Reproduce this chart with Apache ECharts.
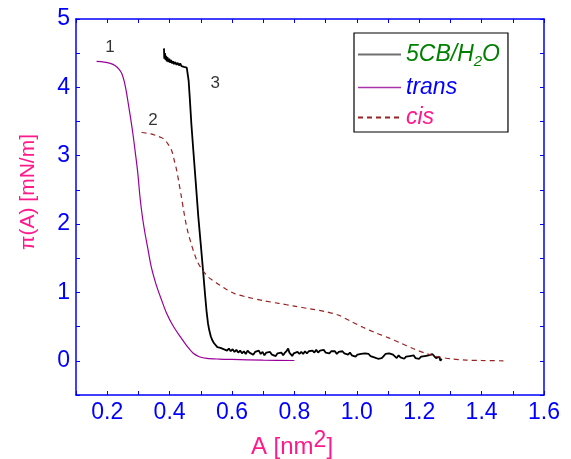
<!DOCTYPE html>
<html><head><meta charset="utf-8">
<script src="https://cdn.jsdelivr.net/npm/echarts@6/dist/echarts.min.js"></script>
<style>html,body{margin:0;padding:0;background:#fff}#c{width:571px;height:459px}</style>
</head><body><div id="c"></div>
<script>
var seriesNames = ['5CB/H2O', 'trans', 'cis'];
var xTickLabels = ['0.2','0.4','0.6','0.8','1.0','1.2','1.4','1.6'];
var yTickLabels = ['0','1','2','3','4','5'];
var annLabels = ['1','2','3'];
var annPos = [[0.209,4.58],[0.347,3.52],[0.546,4.06]];

var trans = [[0.166,4.38],[0.19,4.37],[0.21,4.35],[0.225,4.32],[0.237,4.27],[0.247,4.2],[0.255,4.08],[0.262,3.92],[0.268,3.75],[0.275,3.55],[0.283,3.3],[0.29,3.05],[0.298,2.75],[0.305,2.4],[0.313,2.1],[0.321,1.87],[0.33,1.65],[0.34,1.4],[0.35,1.22],[0.36,1.07],[0.375,0.88],[0.39,0.7],[0.41,0.52],[0.433,0.36],[0.455,0.22],[0.476,0.11],[0.495,0.06],[0.52,0.035],[0.56,0.025],[0.6,0.02],[0.7,0.01],[0.8,0.005]];

var cis = [[0.31,3.34],[0.34,3.32],[0.36,3.29],[0.38,3.25],[0.395,3.17],[0.407,3.07],[0.415,2.93],[0.423,2.78],[0.43,2.6],[0.437,2.42],[0.445,2.2],[0.452,2.02],[0.46,1.86],[0.47,1.7],[0.48,1.56],[0.49,1.44],[0.505,1.33],[0.525,1.22],[0.55,1.14],[0.58,1.05],[0.61,0.98],[0.65,0.93],[0.7,0.88],[0.75,0.84],[0.8,0.8],[0.85,0.76],[0.9,0.72],[0.94,0.67],[0.98,0.58],[1.02,0.49],[1.06,0.41],[1.1,0.34],[1.14,0.26],[1.18,0.18],[1.22,0.11],[1.26,0.06],[1.3,0.03],[1.35,0.01],[1.4,0.005],[1.47,0]];

var cb = [[0.382,4.57],[0.383,4.42],[0.385,4.50],[0.387,4.40],[0.389,4.46],[0.391,4.38],[0.393,4.44],[0.396,4.37],[0.399,4.42],[0.402,4.36],[0.405,4.40],[0.408,4.35],[0.411,4.38],[0.414,4.34],[0.418,4.37],[0.422,4.33],[0.426,4.36],[0.430,4.32],[0.434,4.35],[0.438,4.31],[0.442,4.33],[0.446,4.30],[0.450,4.32],[0.455,4.29],[0.458,4.28],
[0.461,4.10],[0.465,3.82],[0.470,3.45],[0.476,3.08],[0.484,2.60],[0.492,2.11],[0.500,1.70],[0.508,1.28],[0.514,0.95],[0.519,0.70],[0.523,0.55],[0.527,0.45],[0.532,0.36],[0.537,0.30],[0.542,0.26],
[0.548,0.24],[0.553,0.20],[0.558,0.22],[0.563,0.19],[0.568,0.21],[0.573,0.17],[0.578,0.19],[0.584,0.15],[0.590,0.18],[0.596,0.14],[0.602,0.17],[0.608,0.13],[0.614,0.16],[0.620,0.12],[0.626,0.15],[0.632,0.11],[0.638,0.14],[0.644,0.10],[0.650,0.15],[0.656,0.12],[0.662,0.14],[0.668,0.09],[0.674,0.13],[0.680,0.11],[0.686,0.15],[0.692,0.10],[0.698,0.13],[0.704,0.08],[0.710,0.12],[0.716,0.10],[0.722,0.13],[0.728,0.09],[0.734,0.11],[0.740,0.07],[0.746,0.11],[0.752,0.09],[0.758,0.12],[0.764,0.08],[0.770,0.12],[0.776,0.15],[0.780,0.18],[0.784,0.12],[0.788,0.14],[0.793,0.07],[0.798,0.11],[0.804,0.09],[0.810,0.13],[0.816,0.10],[0.822,0.13],[0.828,0.10],[0.834,0.14],[0.840,0.11],[0.846,0.14],[0.852,0.12],[0.858,0.15],[0.864,0.12],[0.870,0.16],[0.876,0.12],[0.882,0.15],[0.888,0.13],[0.894,0.16],[0.900,0.12],[0.906,0.14],[0.912,0.11],[0.918,0.14],[0.924,0.12],[0.930,0.14],[0.936,0.10],[0.942,0.13],[0.948,0.11],[0.954,0.14],[0.960,0.11],[0.966,0.13],[0.972,0.09],[0.978,0.12],[0.984,0.08],[0.990,0.10],[0.996,0.06],[1.002,0.09],[1.008,0.07],[1.014,0.10],[1.020,0.08],[1.026,0.11],[1.032,0.09],[1.038,0.10],[1.044,0.07],[1.050,0.09],[1.056,0.05],[1.062,0.06],[1.068,0.03],[1.074,0.01],[1.080,0.04],[1.086,0.07],[1.092,0.10],[1.098,0.12],[1.104,0.11],[1.110,0.13],[1.116,0.09],[1.122,0.07],[1.128,0.04],[1.134,0.08],[1.140,0.05],[1.146,0.07],[1.152,0.03],[1.158,0.06],[1.164,0.04],[1.170,0.07],[1.176,0.05],[1.182,0.08],[1.188,0.04],[1.194,0.06],[1.200,0.03],[1.206,0.06],[1.212,0.04],[1.218,0.07],[1.224,0.05],[1.230,0.08],[1.236,0.06],[1.242,0.10],[1.248,0.07],[1.254,0.04],[1.260,0.02],[1.264,0.06],[1.268,0.00],[1.272,0.03]];

var FONT = 'Liberation Sans';
var AXC = '#0000ff';
var NAMEC = '#ff1a8c';

function fmtX(v){
  var s = (Math.round(v*10)/10).toFixed(1);
  return xTickLabels.indexOf(s) >= 0 ? s : '';
}
function fmtY(v){
  var s = String(Math.round(v*10)/10);
  return yTickLabels.indexOf(s) >= 0 ? s : '';
}
var baseX = {type:'value', min:0.1, max:1.6, interval:0.1,
  axisLine:{show:true, onZero:false, lineStyle:{color:AXC, width:1.5}},
  axisTick:{show:true, inside:true, length:4, lineStyle:{color:AXC, width:1}},
  splitLine:{show:false}};
var baseY = {type:'value', min:-0.5, max:5, interval:0.5,
  axisLine:{show:true, onZero:false, lineStyle:{color:AXC, width:1.5}},
  axisTick:{show:true, inside:true, length:4, lineStyle:{color:AXC, width:1}},
  splitLine:{show:false}};

var chart = echarts.init(document.getElementById('c'));
chart.setOption({
  animation:false,
  backgroundColor:'#fff',
  grid:{left:76, top:19, right:27, bottom:64, containLabel:false, outerBoundsMode:'none'},
  xAxis:[
    Object.assign({}, baseX, {position:'bottom',
      name:'A [nm{sup|2}]', nameLocation:'middle', nameGap:33,
      nameTextStyle:{color:NAMEC, fontFamily:FONT, fontSize:24, padding:[0,36,0,0],
        rich:{sup:{color:NAMEC, fontFamily:FONT, fontSize:23, padding:[0,0,14,0]}}},
      axisLabel:{show:true, color:AXC, fontFamily:FONT, fontSize:23, margin:6, formatter:fmtX}}),
    Object.assign({}, baseX, {position:'top', axisLabel:{show:false}})
  ],
  yAxis:[
    Object.assign({}, baseY, {position:'left',
      name:'π(A) [mN/m]', nameLocation:'middle', nameGap:37,
      nameTextStyle:{color:NAMEC, fontFamily:FONT, fontSize:21, padding:[0,0,0,30]},
      axisLabel:{show:true, color:AXC, fontFamily:FONT, fontSize:23, margin:6, formatter:fmtY}}),
    Object.assign({}, baseY, {position:'right', axisLabel:{show:false}})
  ],
  legend:{
    orient:'vertical', left:354, top:33,
    borderColor:'#000', borderWidth:1.2, padding:[10,8,3,3],
    itemWidth:43, itemHeight:10, itemGap:7,
    itemStyle:{opacity:0},
    textStyle:{fontFamily:FONT, fontSize:23, fontStyle:'italic',
      rich:{sub:{color:'#008000', fontFamily:FONT, fontStyle:'italic', fontSize:15, padding:[14,0,0,0]}}},
    formatter:function(n){ return n==='5CB/H2O' ? '5CB/H{sub|2}O' : n; },
    data:[
      {name:'5CB/H2O', textStyle:{color:'#008000'}, lineStyle:{color:'#707070', width:2}},
      {name:'trans', textStyle:{color:'#0000ff'}, lineStyle:{color:'#aa33aa', width:1.5}},
      {name:'cis', textStyle:{color:'#ff1a8c'}}
    ]
  },
  series:[
    {name:seriesNames[0], type:'line', data:cb, showSymbol:false, symbol:'none',
      lineStyle:{color:'#000', width:1.8}, itemStyle:{color:'#707070'}},
    {name:seriesNames[1], type:'line', data:trans, showSymbol:false, symbol:'none', smooth:0.3,
      lineStyle:{color:'#990099', width:1.2}, itemStyle:{color:'#990099'}},
    {name:seriesNames[2], type:'line', data:cis, showSymbol:false, symbol:'none', smooth:0.3,
      lineStyle:{color:'#992222', width:1.2, type:[5,4]}, itemStyle:{color:'#992222'}},
    {name:'ann', type:'scatter', symbolSize:0, silent:true,
      data:annLabels.map(function(t,i){ return {name:t, value:annPos[i]}; }),
      label:{show:true, position:'inside', formatter:'{b}', color:'#000', fontFamily:FONT, fontSize:17}}
  ]
});
</script></body></html>
